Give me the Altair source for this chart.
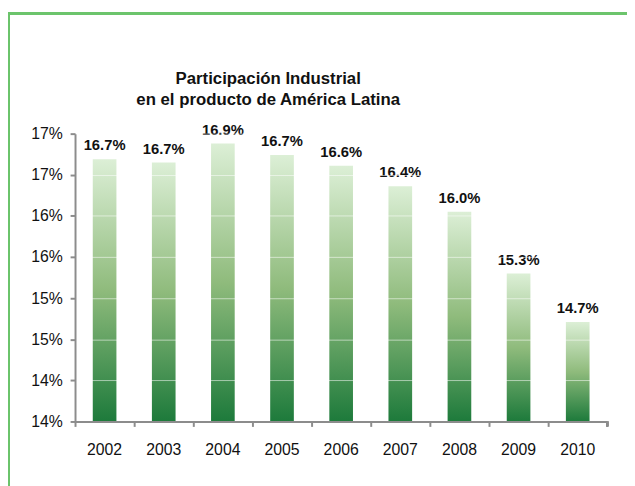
import altair as alt
import pandas as pd

years = ["2002", "2003", "2004", "2005", "2006", "2007", "2008", "2009", "2010"]
values = [16.69, 16.65, 16.88, 16.74, 16.61, 16.36, 16.05, 15.30, 14.71]
labels = ["16.7%", "16.7%", "16.9%", "16.7%", "16.6%", "16.4%", "16.0%", "15.3%", "14.7%"]
y_ticks = [13.5, 14.0, 14.5, 15.0, 15.5, 16.0, 16.5, 17.0]
y_base = 13.5

df = pd.DataFrame({"year": years, "value": values, "label": labels})

FONT = "Liberation Sans"

x_enc = alt.X("year:N", sort=years,
              scale=alt.Scale(paddingInner=0, paddingOuter=0),
              axis=alt.Axis(title=None, labelAngle=0, bandPosition=0,
                            tickSize=5, tickWidth=2, tickColor="#8c8c8c",
                            domainColor="#8c8c8c", domainWidth=2,
                            labelFontSize=16, labelFont=FONT, labelColor="#111",
                            labelPadding=16, zindex=2))
y_enc = alt.Y("value:Q",
              scale=alt.Scale(domain=[13.5, 17.0], nice=False, zero=False),
              axis=alt.Axis(title=None, values=y_ticks,
                            labelExpr="ceil(datum.value) + '%'",
                            tickSize=5, tickWidth=2, tickColor="#8c8c8c",
                            domainColor="#8c8c8c", domainWidth=2,
                            grid=True, gridColor="white", gridOpacity=0.55, gridWidth=1,
                            labelFontSize=16, labelFont=FONT, labelColor="#111",
                            labelPadding=8, zindex=1))

bars = alt.Chart(df).mark_bar(
    size=24,
    color=alt.Gradient(
        gradient="linear",
        x1=0, x2=0, y1=0, y2=1,
        stops=[alt.GradientStop(color="#dcefd6", offset=0),
               alt.GradientStop(color="#8fbb7c", offset=0.5),
               alt.GradientStop(color="#1d7a3b", offset=1)],
    ),
).encode(x=x_enc, y=y_enc, y2=alt.datum(y_base))

text = alt.Chart(df).mark_text(
    font=FONT, fontSize=15, fontWeight="bold", color="#111",
    baseline="alphabetic", dy=-9,
).encode(x=alt.X("year:N", sort=years), y="value:Q", text="label:N")

end_tick = alt.Chart(df).mark_rule(color="#8c8c8c", strokeWidth=2).encode(
    x=alt.value(540), y=alt.value(292), y2=alt.value(297))

frame_top = alt.Chart(df).mark_rule(color="#6cc46c", strokeWidth=2).encode(
    x=alt.value(-67), x2=alt.value(600), y=alt.value(-122))
frame_left = alt.Chart(df).mark_rule(color="#6cc46c", strokeWidth=2).encode(
    x=alt.value(-67), y=alt.value(-123), y2=alt.value(400))

chart = alt.layer(bars, text, end_tick, frame_top, frame_left).properties(
    width=540, height=292,
    autosize=alt.AutoSizeParams(type="none"),
    padding={"left": 68, "top": 124, "right": 20, "bottom": 62},
    title=alt.TitleParams(
        text=["Participación Industrial", "en el producto de América Latina"],
        font=FONT, fontSize=17, fontWeight="bold", color="#111",
        anchor="middle", dx=-74, dy=121, offset=22, lineHeight=21, frame="group",
    ),
).configure_view(stroke=None)

chart.save("out.html", embed_options={"renderer": "svg", "actions": False})
